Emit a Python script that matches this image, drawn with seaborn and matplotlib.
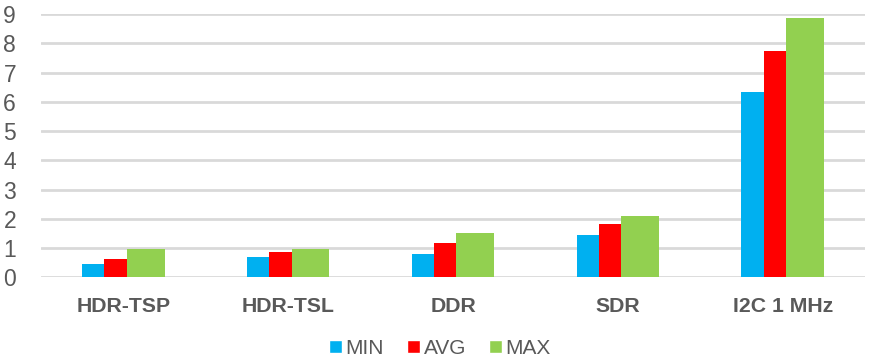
import numpy as np
import pandas as pd
import matplotlib
matplotlib.use("Agg")
import matplotlib.pyplot as plt
import seaborn as sns

# values
categorias = ["HDR-TSP", "HDR-TSL", "DDR", "SDR", "I2C 1 MHz"]
series = ["MIN", "AVG", "MAX"]
min_vals = [0.47, 0.71, 0.81, 1.45, 6.34]
avg_vals = [0.64, 0.85, 1.17, 1.84, 7.75]
max_vals = [0.97, 0.97, 1.52, 2.11, 8.86]
y_ticks = list(range(0, 10))

colores = {"MIN": "#00B0F0", "AVG": "#FF0000", "MAX": "#92D050"}

df = pd.DataFrame({
    "cat": categorias * 3,
    "serie": ["MIN"] * 5 + ["AVG"] * 5 + ["MAX"] * 5,
    "valor": min_vals + avg_vals + max_vals,
})

sns.set_theme(style="white")
plt.rcParams["font.family"] = ["Liberation Sans", "DejaVu Sans"]

fig = plt.figure(figsize=(8.8, 3.64), dpi=100)
ax = fig.add_axes([0.0466, 0.238, 0.9364, 0.7235])

sns.barplot(data=df, x="cat", y="valor", hue="serie", hue_order=series,
            palette=colores, order=categorias, ax=ax, saturation=1,
            errorbar=None, width=0.5, legend=True)

# the original has narrower MIN/AVG bars and a wider MAX bar
offsets = {"MIN": (-0.25, 0.135), "AVG": (-0.115, 0.135), "MAX": (0.02, 0.23)}
for cont, s in zip(ax.containers, series):
    left, w = offsets[s]
    for i, p in enumerate(cont.patches):
        p.set_x(i + left)
        p.set_width(w)
        p.set_linewidth(0)

ax.set_xlim(-0.5, 4.5)
ax.set_ylim(0, 9)
ax.set_yticks(y_ticks)
ax.yaxis.grid(True, color="#d9d9d9", linewidth=2)
ax.set_axisbelow(True)
for sp in ax.spines.values():
    sp.set_visible(False)
ax.set_xlabel("")
ax.set_ylabel("")
ax.tick_params(axis="y", length=0, pad=18, labelsize=16.5, labelcolor="#595959")
ax.tick_params(axis="x", length=0, pad=14, labelsize=15.3, labelcolor="#595959")
for t in ax.get_xticklabels():
    t.set_fontweight("bold")

handles, labels = ax.get_legend_handles_labels()
ax.legend_.remove()
fig.legend(handles, labels, loc="center", bbox_to_anchor=(0.5, 0.042), ncol=3,
           frameon=False, fontsize=15, handlelength=0.6, handleheight=0.6,
           handletextpad=0.2, columnspacing=1.1, labelcolor="#595959",
           borderpad=0)

fig.savefig("out.png", dpi=100)
